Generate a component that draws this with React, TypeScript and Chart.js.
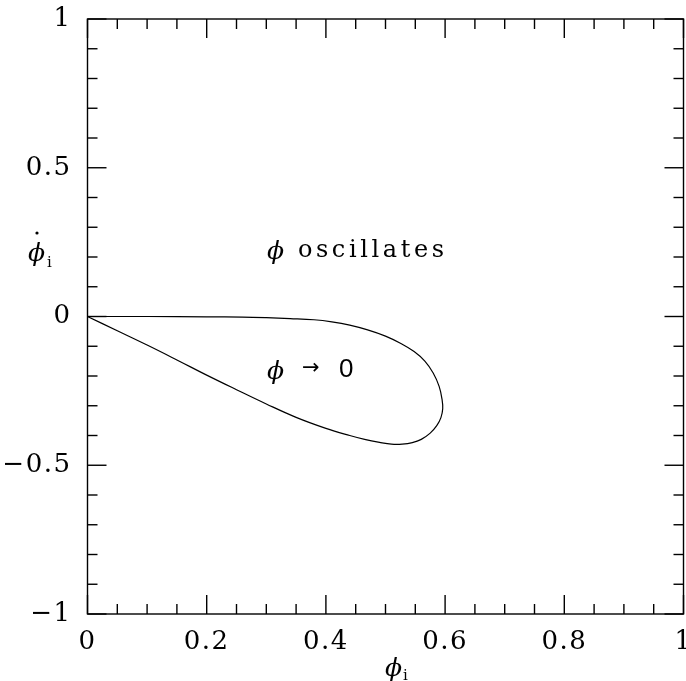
import React, { useEffect, useRef } from "react";
import { Chart, registerables } from "chart.js";

Chart.register(...registerables);

// boundary of the region where phi is driven to zero
const loopPhi = [
  0, 0.1, 0.2, 0.26, 0.3, 0.34, 0.38, 0.41, 0.44, 0.47, 0.5, 0.525, 0.548, 0.566, 0.58, 0.59, 0.595,
  0.596, 0.593, 0.586, 0.575, 0.56, 0.545, 0.528, 0.51, 0.49, 0.465, 0.44, 0.4, 0.35, 0.3, 0.25, 0.2,
  0.15, 0.1, 0.05, 0,
];
const loopPhiDot = [
  0, 0, -0.001, -0.002, -0.004, -0.007, -0.011, -0.018, -0.029, -0.045, -0.066, -0.09, -0.118, -0.15,
  -0.19, -0.235, -0.28, -0.31, -0.34, -0.367, -0.392, -0.413, -0.424, -0.429, -0.429, -0.423, -0.413,
  -0.4, -0.376, -0.339, -0.294, -0.246, -0.197, -0.146, -0.096, -0.048, 0,
];

// region labels, anchored in data coordinates (left edge, baseline)
const regionLabels = [
  { rest: "oscillates", x: 0.301, y: 0.2 },
  { rest: "→ 0", x: 0.301, y: -0.203 },
];

const xTickStep = 0.2;
const xMinorStep = 0.05;
const yTickStep = 0.5;
const yMinorStep = 0.1;

const line = (ctx: CanvasRenderingContext2D, x1: number, y1: number, x2: number, y2: number) => {
  ctx.beginPath();
  ctx.moveTo(x1, y1);
  ctx.lineTo(x2, y2);
  ctx.stroke();
};

const framePlugin = {
  id: "frame",
  beforeDraw(chart: any) {
    chart.ctx.letterSpacing = "1.5px";
  },
  afterDraw(chart: any) {
    const { ctx, chartArea: a, scales } = chart;
    const x = scales.x;
    const y = scales.y;
    ctx.save();
    ctx.letterSpacing = "0px";
    ctx.strokeStyle = "#000";
    ctx.lineWidth = 1.4;
    ctx.strokeRect(a.left, a.top, a.right - a.left, a.bottom - a.top);

    // inward ticks on all four sides
    const nx = Math.round((x.max - x.min) / xMinorStep);
    for (let i = 0; i <= nx; i++) {
      const v = x.min + i * xMinorStep;
      const px = x.getPixelForValue(v);
      const len = i % Math.round(xTickStep / xMinorStep) === 0 ? 19 : 10;
      line(ctx, px, a.bottom, px, a.bottom - len);
      line(ctx, px, a.top, px, a.top + len);
    }
    const ny = Math.round((y.max - y.min) / yMinorStep);
    for (let i = 0; i <= ny; i++) {
      const v = y.min + i * yMinorStep;
      const py = y.getPixelForValue(v);
      const len = i % Math.round(yTickStep / yMinorStep) === 0 ? 19 : 10;
      line(ctx, a.left, py, a.left + len, py);
      line(ctx, a.right, py, a.right - len, py);
    }

    ctx.fillStyle = "#000";
    ctx.textBaseline = "alphabetic";
    ctx.textAlign = "left";

    // text inside the plot
    regionLabels.forEach((l) => {
      const px = x.getPixelForValue(l.x);
      const py = y.getPixelForValue(l.y);
      ctx.font = "italic 25px 'DejaVu Serif'";
      ctx.fillText("ϕ", px, py + 2);
      if (l.rest === "oscillates") {
        ctx.font = "24px 'DejaVu Serif'";
        ctx.letterSpacing = "3.6px";
        ctx.fillText(l.rest, px + 31, py);
        ctx.letterSpacing = "0px";
      } else {
        ctx.font = "21px 'DejaVu Sans'";
        ctx.fillText("→", px + 35, py - 3);
        ctx.font = "26px 'Liberation Sans'";
        ctx.fillText("0", px + 72, py);
      }
    });

    // axis titles
    ctx.font = "italic 25px 'DejaVu Serif'";
    ctx.fillText("ϕ", 28, 261);
    ctx.fillText("ϕ", 385, 676);
    ctx.beginPath();
    ctx.arc(37, 233, 1.6, 0, Math.PI * 2);
    ctx.fill();
    ctx.font = "15px 'DejaVu Serif'";
    ctx.fillText("i", 47, 267);
    ctx.fillText("i", 403, 680);
    ctx.restore();
  },
};

const App: React.FC = () => {
  const canvasRef = useRef<HTMLCanvasElement | null>(null);

  useEffect(() => {
    if (!canvasRef.current) return;
    const points = loopPhi.map((v, i) => ({ x: v, y: loopPhiDot[i] }));
    const tickFont = { family: "DejaVu Serif", size: 26 };
    const chart = new Chart(canvasRef.current, {
      type: "line",
      data: {
        datasets: [
          {
            data: points,
            borderColor: "#000",
            borderWidth: 1.2,
            pointRadius: 0,
            tension: 0.4,
            fill: false,
          },
        ],
      },
      options: {
        animation: false,
        responsive: true,
        maintainAspectRatio: false,
        layout: { padding: { top: 19, right: 2.5, bottom: 0, left: 0 } },
        plugins: { legend: { display: false }, tooltip: { enabled: false } },
        scales: {
          x: {
            type: "linear",
            min: 0,
            max: 1,
            grid: { display: false, drawTicks: false },
            border: { display: false },
            ticks: {
              stepSize: xTickStep,
              color: "#000",
              font: tickFont,
              padding: 13,
              maxRotation: 0,
              autoSkip: false,
              callback: (v: any) => Number(Number(v).toFixed(1)).toString(),
            },
            afterFit: (s: any) => {
              s.height = 67;
              s.paddingLeft = 0;
              s.paddingRight = 0;
            },
          },
          y: {
            type: "linear",
            min: -1,
            max: 1,
            grid: { display: false, drawTicks: false },
            border: { display: false },
            ticks: {
              stepSize: yTickStep,
              color: "#000",
              font: tickFont,
              padding: 16,
              callback: (v: any) => Number(Number(v).toFixed(1)).toString().replace("-", "−"),
            },
            afterFit: (s: any) => {
              s.width = 87.5;
              s.paddingTop = 0;
              s.paddingBottom = 0;
            },
          },
        },
      },
      plugins: [framePlugin],
    });
    return () => chart.destroy();
  }, []);

  return (
    <div style={{ position: "absolute", left: 0, top: 0, width: 686, height: 681, background: "#fff" }}>
      <canvas ref={canvasRef}></canvas>
    </div>
  );
};

export default App;
